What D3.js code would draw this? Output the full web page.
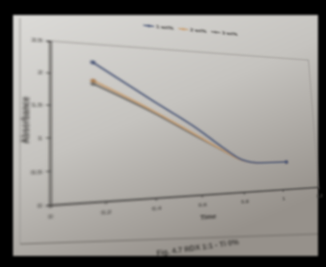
<!DOCTYPE html>
<html>
<head>
<meta charset="utf-8">
<script src="https://cdn.jsdelivr.net/npm/d3@7"></script>
<style>
  html, body { margin: 0; padding: 0; background: #000; overflow: hidden; }
  #wrap { position: relative; width: 326px; height: 267px; }
  #paper, #chart { position: absolute; left: 0; top: 0; }
  #chart { transform-origin: 0 0; }
  .blur { filter: blur(0.9px); }
  text { font-family: "Liberation Sans", Arial, sans-serif; }
</style>
</head>
<body>
<div id="wrap">
  <svg id="paper" class="blur" width="326" height="267"></svg>
  <svg id="chart" class="blur" width="326" height="267"></svg>
</div>
<script>
// data
var xValues = [0.16, 0.4, 0.6, 0.7, 0.8, 0.9, 1.03];
var seriesNames = ['1 wt%', '2 wt%', '3 wt%'];
var blueValues = [2.2, 1.6, 1.11, 0.82, 0.57, 0.5, 0.5];
var orangeValues = [1.9, 1.43, 0.99, 0.77, 0.56, 0.5, 0.5];
var grayValues = [1.85, 1.4, 0.97, 0.76, 0.56, 0.5, 0.5];
var xTicks = [0, 0.2, 0.4, 0.6, 0.8, 1, 1.2];
var yTicks = [0, 0.5, 1, 1.5, 2, 2.5];
var colors = ['#4b5777', '#c99d6e', '#6c6b69'];

var plot = { left: 50, bottom: 205, width: 263, height: 164 };

// ---- paper (photo background) ----
var paper = d3.select('#paper');
var defs = paper.append('defs');
var grad = defs.append('linearGradient').attr('id', 'pg')
	.attr('x1', 0).attr('y1', 0).attr('x2', 0.55).attr('y2', 1);
grad.append('stop').attr('offset', 0).attr('stop-color', '#dcdbd8');
grad.append('stop').attr('offset', 0.5).attr('stop-color', '#c5c3bf');
grad.append('stop').attr('offset', 1).attr('stop-color', '#96918b');

paper.append('rect').attr('width', 326).attr('height', 267).attr('fill', '#000');
paper.append('rect')
	.attr('x', 13).attr('y', 15)
	.attr('width', 305).attr('height', 241)
	.attr('fill', 'url(#pg)');
paper.append('line')
	.attr('x1', 20).attr('y1', 18).attr('x2', 20).attr('y2', 244)
	.attr('stroke', '#9a9894').attr('stroke-width', 1);
paper.append('line')
	.attr('x1', 20).attr('y1', 244).attr('x2', 318).attr('y2', 234)
	.attr('stroke', '#6f6b66').attr('stroke-width', 1.2);
paper.append('text')
	.attr('transform', 'translate(198,250) rotate(-8)')
	.attr('text-anchor', 'middle')
	.attr('font-size', '7.5px')
	.attr('font-weight', 'bold')
	.attr('fill', '#3a3835')
	.text('Fig. 4.7 RDX 1:1 - Ti 0%');

// ---- chart drawn flat, then put in perspective like the photo ----
var a1 = 364, a2 = 2.5, b1 = 38.1, b2 = -161.95, g = 0.3, h = 0.05;
var W = plot.width, H = plot.height, L = plot.left, B = plot.bottom;
var m = [
	a1 / W, b1 / W, 0, g / W,
	-a2 / H, -b2 / H, 0, -h / H,
	0, 0, 1, 0,
	-L * a1 / W + B * a2 / H + L, -L * b1 / W + B * b2 / H + B, 0, -L * g / W + B * h / H + 1
];
d3.select('#chart').style('transform', 'matrix3d(' + m.join(',') + ')');

var svg = d3.select('#chart');
var x = d3.scaleLinear().domain([0, 1.2]).range([L, L + W]);
var y = d3.scaleLinear().domain([0, 2.5]).range([B, B - H]);

svg.append('rect')
	.attr('x', L).attr('y', B - H)
	.attr('width', W).attr('height', H)
	.attr('fill', 'none')
	.attr('stroke', '#8c8a87').attr('stroke-width', 0.8);

var xAxis = svg.append('g')
	.attr('transform', 'translate(0,' + B + ')')
	.call(d3.axisBottom(x).tickValues(xTicks).tickSize(3).tickFormat(d3.format('')));
var yAxis = svg.append('g')
	.attr('transform', 'translate(' + L + ',0)')
	.call(d3.axisLeft(y).tickValues(yTicks).tickSize(3).tickFormat(d3.format('')));
[xAxis, yAxis].forEach(function(ax) {
	ax.select('.domain').attr('stroke', '#3d3b39').attr('stroke-width', 1.3);
	ax.selectAll('.tick line').attr('stroke', '#3d3b39');
	ax.selectAll('.tick text')
		.attr('fill', '#4a4845')
		.attr('font-size', '6px')
		.attr('font-weight', 'bold')
		.style('font-family', '"Liberation Sans", Arial, sans-serif');
});
xAxis.selectAll('.tick text').attr('dy', '1.2em');

svg.append('text')
	.attr('transform', 'translate(34,122) rotate(-90)')
	.attr('text-anchor', 'middle')
	.attr('font-size', '8px')
	.attr('font-weight', 'bold')
	.attr('fill', '#33312e')
	.text('Absorbance');
svg.append('text')
	.attr('x', 187).attr('y', 232)
	.attr('text-anchor', 'middle')
	.attr('font-size', '7px')
	.attr('font-weight', 'bold')
	.attr('fill', '#33312e')
	.text('Time');

var series = [blueValues, orangeValues, grayValues];
var line = d3.line()
	.x(function(d, i) { return x(xValues[i]); })
	.y(function(d) { return y(d); })
	.curve(d3.curveMonotoneX);

// gray, then orange, then blue on top
[2, 1, 0].forEach(function(k) {
	svg.append('path')
		.datum(series[k])
		.attr('d', line)
		.attr('fill', 'none')
		.attr('stroke', colors[k])
		.attr('stroke-width', 1.8);
	var ends = series[k].map(function(v, i) { return { x: xValues[i], v: v }; })
		.filter(function(d, i, arr) { return i === 0 || i === arr.length - 1; });
	svg.selectAll('.dot' + k)
		.data(ends)
		.enter().append('circle')
		.attr('cx', function(d) { return x(d.x); })
		.attr('cy', function(d) { return y(d.v); })
		.attr('r', 2.2)
		.attr('fill', colors[k] === '#c99d6e' ? '#a87a4e' : colors[k]);
});

// legend above the plot
var legend = svg.append('g').attr('transform', 'translate(131,15)');
seriesNames.forEach(function(name, i) {
	var g0 = legend.append('g').attr('transform', 'translate(' + (i * 34) + ',0)');
	g0.append('line')
		.attr('x1', 0).attr('x2', 10).attr('y1', 0).attr('y2', 0)
		.attr('stroke', colors[i]).attr('stroke-width', 1.5);
	g0.append('circle').attr('cx', 5).attr('cy', 0).attr('r', 1.6).attr('fill', colors[i]);
	g0.append('text')
		.attr('x', 12).attr('y', 2.2)
		.attr('font-size', '6px')
		.attr('font-weight', 'bold')
		.attr('fill', '#3d3b39')
		.text(name);
});
</script>
</body>
</html>
